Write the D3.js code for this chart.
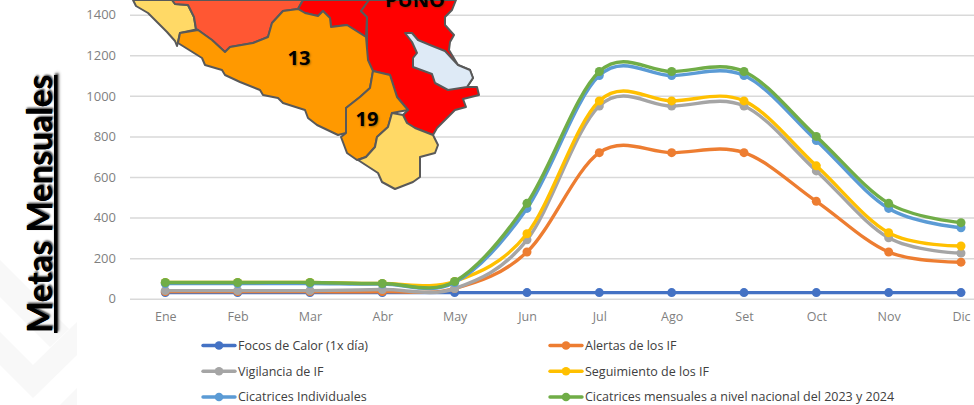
<!DOCTYPE html>
<html>
<head>
<meta charset="utf-8">
<script src="https://cdnjs.cloudflare.com/ajax/libs/d3/7.8.5/d3.min.js"></script>
<style>
html, body { margin: 0; padding: 0; background: #fff; overflow: hidden; }
text { font-family: "Open Sans", sans-serif; }
.domain { display: none; }
</style>
</head>
<body>
<div id="chart"></div>
<script>
var months = ["Ene", "Feb", "Mar", "Abr", "May", "Jun", "Jul", "Ago", "Set", "Oct", "Nov", "Dic"];
var yTicks = [0, 200, 400, 600, 800, 1000, 1200, 1400];

var focos = [30, 30, 30, 30, 30, 30, 30, 30, 30, 30, 30, 30];
var alertas = [35, 35, 35, 35, 50, 230, 720, 720, 720, 480, 230, 180];
var vigilancia = [40, 40, 40, 45, 50, 290, 950, 950, 950, 630, 300, 225];
var seguimiento = [80, 80, 80, 75, 85, 320, 975, 975, 975, 655, 325, 260];
var individuales = [75, 75, 75, 72, 80, 445, 1100, 1100, 1100, 780, 445, 350];
var mensuales = [80, 80, 80, 75, 85, 470, 1120, 1120, 1120, 800, 470, 375];

var seriesNames = ["Focos de Calor (1x día)", "Alertas de los IF", "Vigilancia de IF",
    "Seguimiento de los IF", "Cicatrices Individuales", "Cicatrices mensuales a nivel nacional del 2023 y 2024"];
var seriesValues = [focos, alertas, vigilancia, seguimiento, individuales, mensuales];
var seriesColors = ["#4472c4", "#ed7d31", "#a5a5a5", "#ffc000", "#5b9bd5", "#70ad47"];

// map inset pasted over the chart, traced in page pixels
var regionYellowLeft = [[133,0],[136,6],[148,13],[157,22],[167,32],[175,41],[177,46],[180,33],[196,29.5],[194,17],[188,5],[175,4],[172,0]];
var regionCoral = [[172,0],[175,4],[188,5],[194,17],[196,29],[198,30],[212,40],[225,52],[230,47],[253,43],[268,37],[272,23],[283,11],[298,9],[303,0]];
var regionRedLeft = [[303,0],[298,9],[305,13],[318,16],[323,11],[330,18],[331,27],[347,25],[366,37],[367,17],[361,11],[369,0]];
var regionPuno = [[369,0],[361,11],[367,17],[367,60],[373,71],[390,75],[397,97],[408,110],[403,115],[407,123],[415,128],[433,135],[437,128],[448,117],[455,110],[466,107],[463,99],[479,95],[477,87],[467,87],[473,78],[470,70],[458,65],[449,50],[450,42],[454,35],[445,25],[445,17],[452,10],[456,0]];
var regionLake = [[405,33],[412,33],[418,40],[430,45],[445,51],[458,65],[470,70],[473,78],[467,87],[448,90],[435,83],[432,74],[413,67],[413,58],[417,53],[412,42]];
var region13 = [[178,43],[180,33],[198,30],[212,40],[225,52],[230,47],[253,43],[268,37],[272,23],[283,11],[298,9],[305,13],[318,16],[323,11],[330,18],[331,27],[347,25],[366,37],[368,60],[373,71],[370,88],[360,97],[346,108],[346,133],[338,135],[317,125],[308,118],[305,110],[283,103],[278,98],[263,95],[260,90],[240,82],[225,75],[222,70],[205,65],[202,58]];
var region19 = [[373,71],[390,75],[397,97],[408,110],[392,113],[388,127],[377,137],[375,147],[366,157],[357,160],[347,153],[341,137],[346,133],[346,108],[360,97],[370,88]];
var regionYellowSouth = [[392,113],[403,115],[407,123],[415,128],[433,135],[438,145],[435,153],[420,157],[420,177],[413,182],[395,189],[382,182],[378,173],[358,160],[366,157],[375,147],[377,137],[388,127]];

var regions = [regionYellowLeft, regionCoral, regionRedLeft, regionPuno, regionLake, region13, region19, regionYellowSouth];
var regionColors = ["#ffd966", "#ff5733", "#ff0000", "#ff0000", "#deeaf6", "#ff9900", "#ff9900", "#ffd966"];
var mapLabels = [["PUNO", 415, 7], ["13", 299, 65], ["19", 367, 126]];

// faint chevrons of the slide background
var chevrons = [
    [[0,260],[69,329],[50,347],[0,297]],
    [[0,332],[33,365],[77,322],[77,355],[33,398],[0,365]],
    [[77,388],[60,405],[77,405]]
];

var width = 974, height = 405;

var svg = d3.select("#chart").append("svg")
    .attr("width", width)
    .attr("height", height)
    .style("display", "block");

svg.selectAll(".chevron").data(chevrons).enter().append("path")
    .attr("class", "chevron")
    .attr("d", function(d) { return d3.line()(d) + "Z"; })
    .attr("fill", "#f8f8f8");

var x = d3.scalePoint().domain(months).range([165.3, 961]);
var y = d3.scaleLinear().domain([0, 1400]).range([298.7, 14.7]);

// y axis with gridlines running under everything
var yAxis = svg.append("g")
    .attr("transform", "translate(130,0)")
    .call(d3.axisLeft(y).tickValues(yTicks).tickSize(-850).tickPadding(14).tickFormat(d3.format("d")));
yAxis.selectAll("line").attr("stroke", "#d9d9d9").attr("stroke-width", 1.5);
yAxis.selectAll("text").attr("fill", "#7f7f7f").style("font-size", "13px");

var xAxis = svg.append("g")
    .attr("transform", "translate(0,298.7)")
    .call(d3.axisBottom(x).tickSize(0).tickPadding(13));
xAxis.selectAll("text").attr("fill", "#7f7f7f").style("font-size", "12.5px");

var line = d3.line()
    .x(function(d, i) { return x(months[i]); })
    .y(function(d) { return y(d); })
    .curve(d3.curveCatmullRom.alpha(0));

seriesValues.forEach(function(values, s) {
    var g = svg.append("g");
    g.append("path")
        .datum(values)
        .attr("d", line)
        .attr("fill", "none")
        .attr("stroke", seriesColors[s])
        .attr("stroke-width", 3.4)
        .attr("stroke-linecap", "round");
    g.selectAll("circle").data(values).enter().append("circle")
        .attr("cx", function(d, i) { return x(months[i]); })
        .attr("cy", function(d) { return y(d); })
        .attr("r", 4.5)
        .attr("fill", seriesColors[s]);
});

// legend, two columns
var legendX = d3.scalePoint().domain([0, 1]).range([203, 550]);
var legendY = d3.scalePoint().domain([0, 1, 2]).range([345.5, 397]);
seriesNames.forEach(function(name, s) {
    var g = svg.append("g")
        .attr("transform", "translate(" + legendX(s % 2) + "," + legendY(Math.floor(s / 2)) + ")");
    g.append("line").attr("x2", 32).attr("stroke", seriesColors[s]).attr("stroke-width", 3.4).attr("stroke-linecap", "round");
    g.append("circle").attr("cx", 16).attr("r", 4.3).attr("fill", seriesColors[s]);
    var label = g.append("text").attr("x", 35).attr("dy", "0.35em").attr("fill", "#404040").style("font-size", "12.5px").text(name);
    if (s === 0) label.attr("textLength", 130); // this one runs wider in the original
});

// map
svg.selectAll(".region").data(regions).enter().append("path")
    .attr("class", "region")
    .attr("d", function(d) { return d3.line().curve(d3.curveLinearClosed)(d); })
    .attr("fill", function(d, i) { return regionColors[i]; })
    .attr("stroke", "#595959")
    .attr("stroke-width", 2)
    .attr("stroke-linejoin", "round");

svg.selectAll(".maplabel").data(mapLabels).enter().append("text")
    .attr("class", "maplabel")
    .attr("x", function(d) { return d[1]; })
    .attr("y", function(d) { return d[2]; })
    .attr("text-anchor", "middle")
    .attr("fill", "#000")
    .style("font-size", "20px")
    .style("font-weight", "700")
    .style("text-shadow", "1px 1px 2px rgba(90,60,0,.55)")
    .text(function(d) { return d[0]; });

svg.append("text")
    .attr("transform", "translate(52,333) rotate(-90)")
    .attr("fill", "#000")
    .attr("textLength", 258)
    .attr("lengthAdjust", "spacingAndGlyphs")
    .style("font-family", "Lato, sans-serif")
    .style("font-size", "35px")
    .style("font-weight", "700")
    .style("text-decoration", "underline")
    .style("text-shadow", "1.5px 1px 2px rgba(0,0,0,.45)")
    .text("Metas Mensuales");
</script>
</body>
</html>
